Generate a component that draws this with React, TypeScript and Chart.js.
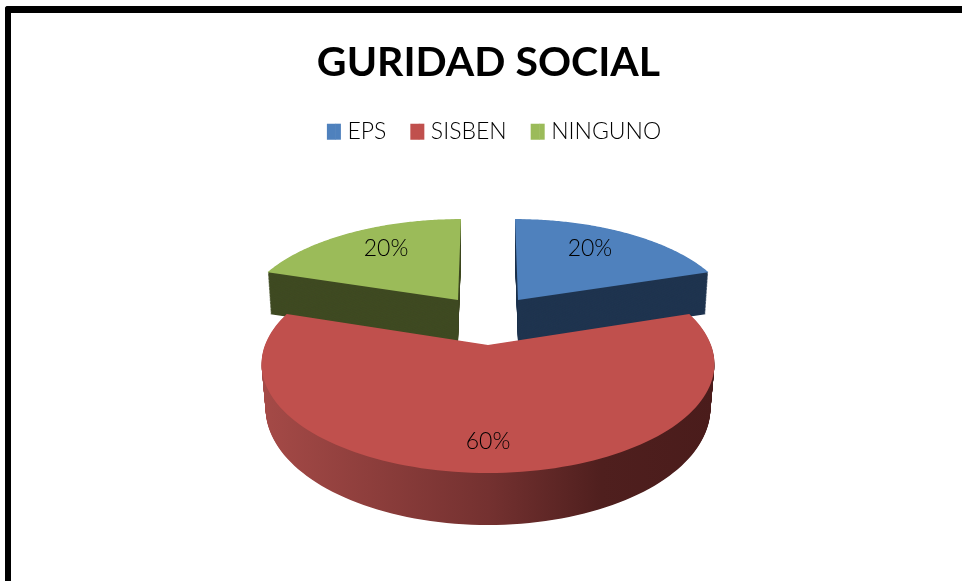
import React, { useEffect, useRef } from "react";
import { Chart, registerables } from "chart.js";

Chart.register(...registerables);

const titleText = "GURIDAD SOCIAL";
const categories = ["EPS", "SISBEN", "NINGUNO"];
const seriesValues = [20, 60, 20];
const topColors = ["#4f81bd", "#c0504d", "#9bbb59"];
const wallColors = ["#1f344f", "", "#3f4a22"];

// perspective model of each exploded slice (tilted disc seen from above)
const views = [
  { x0: 518, y0: 300, a: 212, b: 95, c: -3.5, k: 0.174, depth: 42, p: 0, sh: 0.985, labelR: 0.717, labelDeg: -3.5 },
  { x0: 488, y0: 345, a: 223, b: 105.7, c: 0, k: 0.174, depth: 43, p: 1, sh: 0.982, labelR: 0.78, labelDeg: 0 },
  { x0: 458, y0: 300, a: 212, b: 95, c: 3.5, k: 0.174, depth: 42, p: 0, sh: 0.985, labelR: 0.717, labelDeg: 3.5 },
];
const drawOrder = [2, 0, 1];

function project(v: any, theta: number, r: number, d: number) {
  const s = Math.sin(theta) * r;
  const co = Math.cos(theta) * r;
  const w = 1 + v.k * co;
  const scale = 1 - (1 - v.sh) * d;
  return {
    x: v.x0 + (scale * (v.a * s + v.c * co)) / w,
    y: v.y0 - (v.b * co) / w + (d * v.depth) / Math.pow(w, v.p),
  };
}

function slicePath(ctx: CanvasRenderingContext2D, v: any, start: number, end: number, d: number) {
  const steps = 120;
  ctx.beginPath();
  const o = project(v, 0, 0, d);
  ctx.moveTo(o.x, o.y);
  for (let i = 0; i <= steps; i++) {
    const t = start + ((end - start) * i) / steps;
    const p = project(v, t, 1, d);
    ctx.lineTo(p.x, p.y);
  }
  ctx.closePath();
}

const legendShift = 5.5;
const legendBoxWidth = 9;
const legendBoxFull = 14;
const legendBoxHeight = 16;

const pie3d = {
  id: "pie3d",
  afterLayout(chart: any) {
    const lg = chart.legend;
    lg.left += legendShift;
    lg.right += legendShift;
    lg.legendHitBoxes.forEach((h: any) => {
      h.left += legendShift;
    });
  },
  afterDraw(chart: any) {
    const ctx: CanvasRenderingContext2D = chart.ctx;
    chart.legend.legendHitBoxes.forEach((h: any, i: number) => {
      ctx.fillStyle = topColors[i];
      ctx.fillRect(h.left + legendBoxWidth - 0.5, h.top + (h.height - legendBoxHeight) / 2, legendBoxFull - legendBoxWidth + 0.5, legendBoxHeight);
    });
  },
  beforeDatasetsDraw(chart: any) {
    const ctx: CanvasRenderingContext2D = chart.ctx;
    const arcs = chart.getDatasetMeta(0).data;
    const total = seriesValues.reduce((s, x) => s + x, 0);
    const redWall = ctx.createLinearGradient(262, 0, 715, 0);
    redWall.addColorStop(0, "#a54a47");
    redWall.addColorStop(0.5, "#743130");
    redWall.addColorStop(0.75, "#4f1f1e");
    redWall.addColorStop(1, "#4a1c1b");
    for (const i of drawOrder) {
      const v = views[i];
      const start = arcs[i].startAngle + Math.PI / 2;
      const end = arcs[i].endAngle + Math.PI / 2;
      ctx.fillStyle = wallColors[i] || redWall;
      for (let l = 60; l > 0; l--) {
        slicePath(ctx, v, start, end, l / 60);
        ctx.fill();
      }
      slicePath(ctx, v, start, end, 0);
      ctx.fillStyle = topColors[i];
      ctx.fill();
    }
    ctx.fillStyle = "#000";
    ctx.font = "300 23px Lato";
    ctx.textAlign = "center";
    ctx.textBaseline = "middle";
    for (let i = 0; i < arcs.length; i++) {
      const v = views[i];
      const mid = (arcs[i].startAngle + arcs[i].endAngle) / 2 + Math.PI / 2 + (v.labelDeg * Math.PI) / 180;
      const p = project(v, mid, v.labelR, 0);
      ctx.fillText(Math.round((seriesValues[i] / total) * 100) + "%", p.x, p.y + 1);
    }
    return false;
  },
};

export default function App() {
  const ref = useRef<HTMLCanvasElement | null>(null);
  useEffect(() => {
    const chart = new Chart(ref.current as HTMLCanvasElement, {
      type: "pie",
      data: {
        labels: categories,
        datasets: [{ data: seriesValues, backgroundColor: topColors, borderWidth: 0 }],
      },
      options: {
        responsive: false,
        animation: false,
        layout: { padding: { top: 38, bottom: 60, left: 75, right: 60 } },
        plugins: {
          title: {
            display: true,
            text: titleText,
            color: "#000",
            font: { family: "Lato", size: 41, weight: "bold" },
            padding: { top: 0, bottom: 9 },
          },
          legend: {
            position: "top",
            labels: {
              color: "#000",
              font: { family: "Lato", size: 23, weight: "300" },
              boxWidth: legendBoxWidth,
              boxHeight: legendBoxHeight,
              padding: 24,
            },
          },
          tooltip: { enabled: false },
        },
      },
      plugins: [pie3d],
    } as any);
    return () => chart.destroy();
  }, []);
  return (
    <div style={{ position: "absolute", left: 0, top: 0, width: 962, height: 581, overflow: "hidden", background: "#fff" }}>
      <div
        style={{
          position: "absolute",
          left: 5,
          top: 6,
          width: 962,
          height: 581,
          borderLeft: "6px solid #000",
          borderTop: "7px solid #000",
          borderTopLeftRadius: 3,
        }}
      />
      <canvas ref={ref} width={962} height={581} style={{ position: "absolute", left: 0, top: 0, display: "block" }} />
    </div>
  );
}
